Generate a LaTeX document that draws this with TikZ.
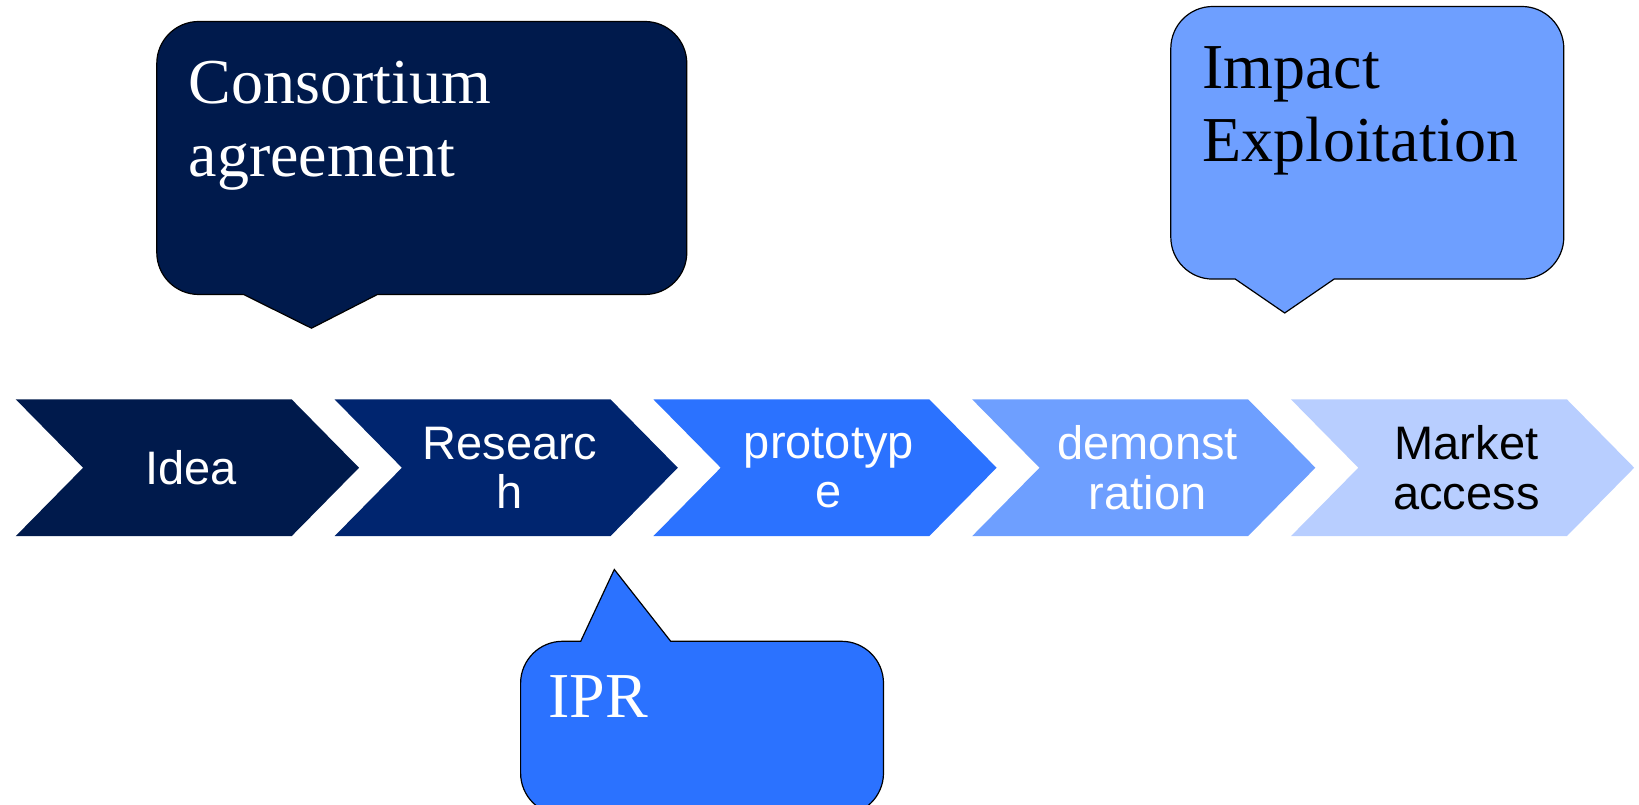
\documentclass[tikz,border=0pt]{standalone}
\usepackage{fontspec}
\setmainfont{Liberation Serif}
\newfontfamily\arialfont{Liberation Sans}

\definecolor{navy}{HTML}{001A4C}
\definecolor{deepblue}{HTML}{00256F}
\definecolor{brightblue}{HTML}{2B72FF}
\definecolor{midblue}{HTML}{6E9FFF}
\definecolor{paleblue}{HTML}{B8CEFF}

\tikzset{
  stage/.style={draw=none},
  stagetext/.style={font=\arialfont\fontsize{47}{49.4}\selectfont, align=center, inner sep=0pt, text=white},
  bubble/.style={draw=black, line width=1.2pt, line join=miter},
  bubbletext/.style={font=\fontsize{64}{73.4}\selectfont, align=left, inner sep=0pt, anchor=north west, text=white},
}

\begin{document}
\begin{tikzpicture}[x=1pt,y=1pt]
\useasboundingbox (0,0) rectangle (1639,805);
\clip (0,0) rectangle (1639,805);

% process chevrons: left edge L, straight part 275.9, point depth 67.4
\foreach \i/\col in {0/navy,1/deepblue,2/brightblue,3/midblue,4/paleblue}{
  \pgfmathsetmacro{\L}{15.7+318.8*\i}
  \fill[stage, \col] (\L,405.7) -- ++(275.9,0) -- ++(67.4,-68.45) -- ++(-67.4,-68.45)
      -- (\L,268.8) -- ++(67.4,68.45) -- cycle;
}
\node[stagetext] (idea)  at (191.2,337.25) {Idea};
\node[stagetext] (research) at (510.0,337.25) {Researc\\h};
\node[stagetext] (prototype) at (828.8,337.25) {prototyp\\e};
\node[stagetext] (demo) at (1147.6,337.25) {demonst\\ration};
\node[stagetext, text=black] (market) at (1466.4,337.25) {Market\\access};

% callout above the start of the chain
\filldraw[bubble, fill=navy] (243.6,510.5) -- (311.5,476.8) -- (377.4,510.5) -- (644.8,510.5)
  arc[start angle=-90, end angle=0, radius=42] -- (686.8,741.5)
  arc[start angle=0, end angle=90, radius=42] -- (198.8,783.5)
  arc[start angle=90, end angle=180, radius=42] -- (156.8,552.5)
  arc[start angle=180, end angle=270, radius=42] -- cycle;
\node[bubbletext] (consortium) at (188.5,744.0) {Consortium\\agreement};

% callout above the end of the chain
\filldraw[bubble, fill=midblue] (1235.3,525.9) -- (1284.7,492.0) -- (1334.1,525.9) -- (1521.8,525.9)
  arc[start angle=-90, end angle=0, radius=42] -- (1563.8,756.5)
  arc[start angle=0, end angle=90, radius=42] -- (1212.8,798.5)
  arc[start angle=90, end angle=180, radius=42] -- (1170.8,567.9)
  arc[start angle=180, end angle=270, radius=42] -- cycle;
\node[bubbletext, text=black] (impact) at (1202.0,759.0) {Impact\\Exploitation};

% callout below the research stage
\filldraw[bubble, fill=brightblue] (670.7,163.7) -- (614.3,235.5) -- (580.7,163.7) -- (562.6,163.7)
  arc[start angle=90, end angle=180, radius=42] -- (520.6,32)
  arc[start angle=180, end angle=270, radius=42] -- (841.5,-10)
  arc[start angle=270, end angle=360, radius=42] -- (883.5,121.7)
  arc[start angle=0, end angle=90, radius=42] -- cycle;
\node[bubbletext] (ipr) at (548.0,129.7) {IPR};
\end{tikzpicture}
\end{document}
